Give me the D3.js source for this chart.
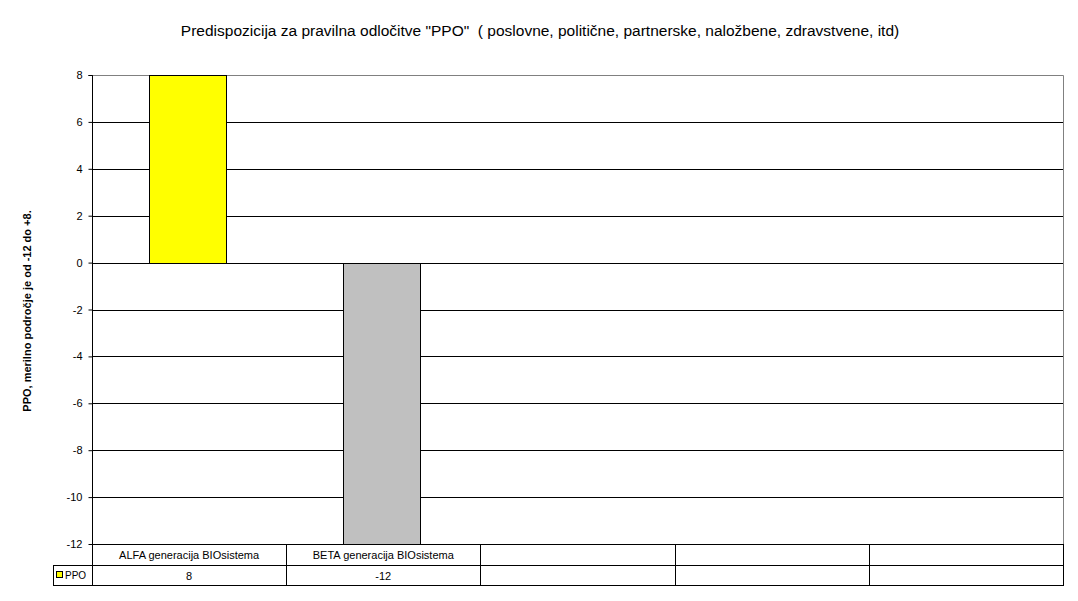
<!DOCTYPE html>
<html><head><meta charset="utf-8">
<script src="https://cdn.jsdelivr.net/npm/d3@7"></script>
<style>body{margin:0;background:#fff}svg{display:block;font-family:"Liberation Sans",Arial,sans-serif}</style>
</head><body>
<svg id="c" width="1078" height="601"></svg>
<script>
const categories = ["ALFA generacija BIOsistema", "BETA generacija BIOsistema", "", "", ""];
const seriesName = "PPO";
const values = [8, -12, null, null, null];
const barColors = ["#ffff00", "#c0c0c0"];
const yTicks = [8, 6, 4, 2, 0, -2, -4, -6, -8, -10, -12];
const titleText = "Predispozicija za pravilna odločitve \"PPO\"\u00a0 ( poslovne, politične, partnerske, naložbene, zdravstvene, itd)";
const yLabel = "PPO, merilno področje je od -12 do +8.";

const svg = d3.select("#c");
const L = 92, R = 1063, T = 75, B = 544;
const rowH = 21;
const x = d3.scaleBand().domain(d3.range(categories.length)).range([L, R]).paddingInner(0).paddingOuter(0);
const y = d3.scaleLinear().domain([-12, 8]).range([B, T]);

svg.append("text").attr("x", 540).attr("y", 36).attr("text-anchor", "middle")
  .attr("font-size", 15.5).text(titleText);

svg.append("text").attr("transform", `translate(31,${311}) rotate(-90)`).attr("text-anchor", "middle")
  .attr("font-size", 11).attr("font-weight", "bold").text(yLabel);

// gridlines
svg.append("g").selectAll("line").data(yTicks.filter(d => d !== 8 && d !== -12)).join("line")
  .attr("x1", L).attr("x2", R).attr("y1", d => Math.round(y(d)) + 0.5).attr("y2", d => Math.round(y(d)) + 0.5)
  .attr("stroke", "#000").attr("stroke-width", 1);

// plot border top/right grey
svg.append("path").attr("d", `M${L},${T + 0.5}H${R + 0.5}V${B}`).attr("fill", "none").attr("stroke", "#808080");

// bars
const bw = 77;
svg.append("g").selectAll("rect").data(values.map((v, i) => ({v, i})).filter(d => d.v !== null)).join("rect")
  .attr("x", d => Math.round(x(d.i) + x.bandwidth() * 0.295) + 0.5)
  .attr("width", bw)
  .attr("y", d => Math.round(y(Math.max(0, d.v))) + 0.5)
  .attr("height", d => Math.round(Math.abs(y(d.v) - y(0))))
  .attr("fill", d => barColors[d.i]).attr("stroke", "#000").attr("stroke-width", 1);

// y axis
const ya = svg.append("g").attr("transform", `translate(${L + 0.5},0)`)
  .call(d3.axisLeft(y).tickValues(yTicks).tickSize(4).tickPadding(6).tickFormat(d3.format("d")));
ya.selectAll("text").attr("font-size", 11).attr("font-family", "Liberation Sans, Arial, sans-serif").attr("fill", "#000");
ya.selectAll("line").attr("stroke", "#000");
ya.select(".domain").attr("stroke", "#000").attr("d", `M-4,${T + 0.5}H0V${B}`);
ya.selectAll("text").text(d => d < 0 ? "-" + Math.abs(d) : d);

// data table
const tb = svg.append("g").attr("stroke", "#000").attr("fill", "none");
const LL = 53;
tb.append("line").attr("x1", L).attr("x2", R + 1).attr("y1", B + 0.5).attr("y2", B + 0.5);
tb.append("line").attr("x1", LL).attr("x2", R + 1).attr("y1", B + rowH + 0.5).attr("y2", B + rowH + 0.5);
tb.append("line").attr("x1", LL).attr("x2", R + 1).attr("y1", B + 2 * rowH - 0.5).attr("y2", B + 2 * rowH - 0.5);
tb.append("line").attr("x1", LL + 0.5).attr("x2", LL + 0.5).attr("y1", B + rowH).attr("y2", B + 2 * rowH);
const bounds = d3.range(categories.length + 1).map(i => i < categories.length ? x(i) : R);
tb.selectAll("line.v").data(bounds).join("line").attr("class", "v")
  .attr("x1", d => Math.round(d) + 0.5).attr("x2", d => Math.round(d) + 0.5)
  .attr("y1", B).attr("y2", B + 2 * rowH);

svg.append("g").selectAll("text").data(categories).join("text")
  .attr("x", (d, i) => x(i) + x.bandwidth() / 2).attr("y", B + 15).attr("text-anchor", "middle")
  .attr("font-size", 11).text(d => d);
svg.append("g").selectAll("text").data(values).join("text")
  .attr("x", (d, i) => x(i) + x.bandwidth() / 2).attr("y", B + rowH + 15).attr("text-anchor", "middle")
  .attr("font-size", 11).text(d => d === null ? "" : d);

// legend key
svg.append("rect").attr("x", 56.5).attr("y", B + rowH + 6.5).attr("width", 6).attr("height", 6)
  .attr("fill", barColors[0]).attr("stroke", "#000");
svg.append("text").attr("x", 65).attr("y", B + rowH + 14).attr("font-size", 10).text(seriesName);
</script>
</body></html>
